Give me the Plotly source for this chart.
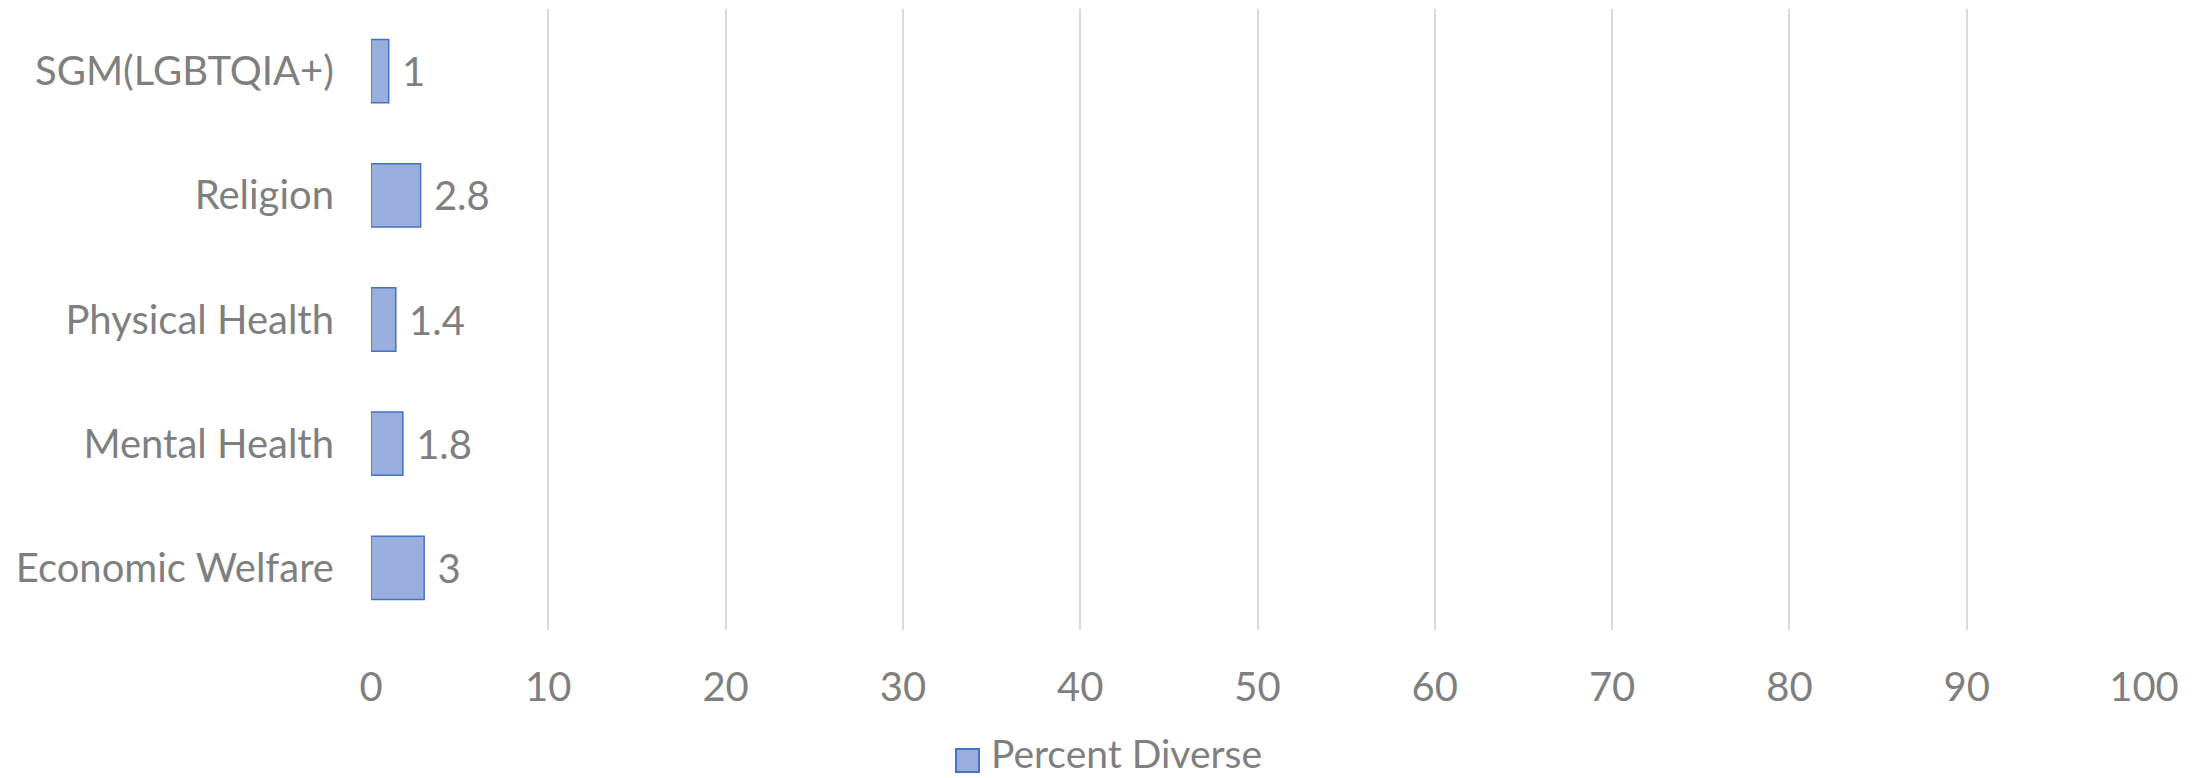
import plotly.graph_objects as go

# Categories listed bottom-to-top as they appear on the axis
categories = ["Economic Welfare", "Mental Health", "Physical Health", "Religion", "SGM(LGBTQIA+)"]
percent_diverse = [3, 1.8, 1.4, 2.8, 1]
x_ticks = [0, 10, 20, 30, 40, 50, 60, 70, 80, 90, 100]
series_name = "Percent Diverse"

FONT = "Lato"
GREY = "#7f7f7f"
BAR_FILL = "#9aaedd"
BAR_EDGE = "#4472c4"

W, H = 2206, 778
M_L, M_R, M_T, M_B = 371, 62, 9, 148
PLOT_W = W - M_L - M_R
PLOT_H = H - M_T - M_B


def px_x(px):
    """Horizontal pixel position -> paper fraction."""
    return (px - M_L) / PLOT_W


def px_y(px):
    """Vertical pixel position (from top) -> paper fraction."""
    return (H - M_B - px) / PLOT_H


fig = go.Figure()
fig.add_trace(go.Bar(
    y=categories,
    x=percent_diverse,
    orientation="h",
    name=series_name,
    showlegend=False,
    marker=dict(color=BAR_FILL, line=dict(color=BAR_EDGE, width=1.5)),
    text=[f"\u00a0{v:g}" for v in percent_diverse],
    textposition="outside",
    textfont=dict(family=FONT, size=40, color=GREY),
    cliponaxis=False,
))

# Legend: square swatch plus series name, centred under the chart
fig.add_shape(
    type="rect", xref="paper", yref="paper",
    x0=px_x(956), x1=px_x(979), y0=px_y(772), y1=px_y(749),
    fillcolor=BAR_FILL, line=dict(color=BAR_EDGE, width=2),
)
fig.add_annotation(
    text=series_name, xref="paper", yref="paper",
    x=px_x(990), y=px_y(H - 1), xanchor="left", yanchor="bottom",
    showarrow=False, borderpad=0,
    font=dict(family=FONT, size=39, color=GREY),
)

fig.update_layout(
    width=W,
    height=H,
    margin=dict(l=M_L, r=M_R, t=M_T, b=M_B, autoexpand=False),
    paper_bgcolor="white",
    plot_bgcolor="white",
    bargap=0.49,
    font=dict(family=FONT, size=40, color=GREY),
    showlegend=False,
)

fig.update_xaxes(
    range=[0, 100],
    tickvals=x_ticks,
    showgrid=True,
    gridcolor="#d9d9d9",
    gridwidth=2,
    zeroline=False,
    showline=False,
    ticks="",
    automargin=False,
    ticklabelstandoff=30,
    tickfont=dict(family=FONT, size=40, color=GREY),
)
fig.update_yaxes(
    categoryorder="array",
    categoryarray=categories,
    showgrid=False,
    zeroline=False,
    showline=False,
    ticks="",
    automargin=False,
    ticklabelstandoff=36,
    tickfont=dict(family=FONT, size=40, color=GREY),
)

fig.write_html("out.html")
